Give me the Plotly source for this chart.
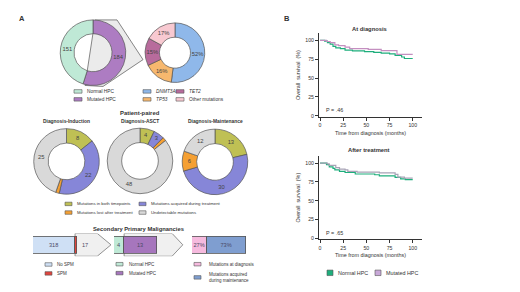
import plotly.graph_objects as go

# The page body has an 8px margin; coordinates below are screenshot pixels.
OFF = 8
W, H = 520 - OFF, 292 - OFF
FONT = "Arial, Liberation Sans, sans-serif"
TXT = "#333333"

# ---------------- data ----------------
hpc_labels = ["Mutated HPC", "Normal HPC"]
hpc_values = [184, 151]

mut_labels = ["DNMT3A", "TP53", "TET2", "Other mutations"]
mut_pct = [52, 16, 15, 17]

pair_labels = ["Mutations in both timepoints", "Mutations acquired during treatment",
               "Mutations lost after treatment", "Undetectable mutations"]
diag_induction = [8, 22, 1, 25]
diag_asct = [4, 3, 1, 48]
diag_maintenance = [13, 30, 6, 12]
pair_titles = ["Diagnosis-Induction", "Diagnosis-ASCT", "Diagnosis-Maintenance"]

spm_labels = ["No SPM", "SPM"]
spm_values = [318, 17]
spm_hpc_labels = ["Normal HPC", "Mutated HPC"]
spm_hpc_values = [4, 13]
spm_mut_labels = ["Mutations at diagnosis", "Mutations acquired<br>during maintenance"]
spm_mut_pct = [27, 73]

km_ticks = [0, 25, 50, 75, 100]
diag_normal_t = [0, 5, 8, 11, 14, 17, 22, 27, 35, 48, 58, 66, 75, 81, 88, 91, 100]
diag_normal_s = [100, 99, 97, 95, 92, 90, 89, 87, 86, 85, 84, 83, 82, 80, 78, 76, 76]
diag_mut_t = [0, 7, 11, 16, 20, 27, 32, 52, 66, 83, 100]
diag_mut_s = [100, 98.5, 97, 94, 93, 91, 89, 88, 86.5, 81.5, 81.5]
treat_normal_t = [0, 7, 10, 14, 16, 21, 27, 38, 59, 64, 81, 87, 92, 100]
treat_normal_s = [100, 98, 95, 93, 91, 89, 87.5, 85.5, 84.5, 83, 81, 79, 78, 78]
treat_mut_t = [0, 8, 10, 17, 21, 27, 30, 40, 64, 81, 84, 91, 100]
treat_mut_s = [100, 99, 97, 94, 92, 91, 89, 88, 87, 85, 81.5, 80, 80]

# ---------------- styles ----------------
C_NORMAL = "#bfe9d6"
C_MUT = "#ad7cc2"
C_MUTCOLS = ["#8fb8ea", "#f7b86e", "#b86b9c", "#f8c9d1"]
C_PAIR = ["#bfc054", "#8686d8", "#f5a033", "#d9d9d9"]
C_SPM = ["#cfe0f5", "#e0453e"]
C_SPM_HPC = [C_NORMAL, "#a676bd"]
C_SPM_MUT = ["#f6bade", "#7f9ed0"]
C_KM_N = "#1eae7c"
C_KM_M1 = "#c48fc0"
C_KM_M2 = "#a8a3b6"
EDGE = "#555555"


def fx(p):
    return (p - OFF) / W


def fy(p):
    return 1 - (p - OFF) / H


def dom(cx, cy, r):
    return dict(x=[fx(cx - r), fx(cx + r)], y=[fy(cy + r), fy(cy - r)])


fig = go.Figure()


def donut(values, labels, colors, cx, cy, r, hole, text):
    fig.add_trace(go.Pie(
        values=values, labels=labels, domain=dom(cx, cy, r), hole=hole,
        sort=False, direction="clockwise", rotation=0,
        marker=dict(colors=colors, line=dict(color=EDGE, width=0.7)),
        text=text, textinfo="text", textposition="inside",
        insidetextorientation="horizontal",
        textfont=dict(size=5.8, color="#444444", family=FONT),
        showlegend=False, hoverinfo="label+value"))


donut(hpc_values, hpc_labels, [C_MUT, C_NORMAL], 93, 53, 33, 0.58,
      [str(v) for v in hpc_values])
donut(mut_pct, mut_labels, C_MUTCOLS, 175, 53, 30, 0.52,
      [f"{v}%" for v in mut_pct])
pair_centers = [(66.5, 162.5), (140, 162), (215, 163)]
for vals, (cx, cy) in zip([diag_induction, diag_asct, diag_maintenance], pair_centers):
    donut(vals, pair_labels, C_PAIR, cx, cy, 33, 0.56,
          [str(v) if v > 2 else "" for v in vals])

# ---------------- Kaplan-Meier ----------------
for t, s, c, xa, ya, nm in [
        (diag_normal_t, diag_normal_s, C_KM_N, "x", "y", "Normal HPC"),
        (diag_mut_t, diag_mut_s, C_KM_M1, "x", "y", "Mutated HPC"),
        (treat_normal_t, treat_normal_s, C_KM_N, "x2", "y2", "Normal HPC"),
        (treat_mut_t, treat_mut_s, C_KM_M2, "x2", "y2", "Mutated HPC")]:
    fig.add_trace(go.Scatter(x=t, y=s, mode="lines", line_shape="hv",
                             line=dict(color=c, width=1.2), xaxis=xa, yaxis=ya,
                             name=nm, showlegend=False))


# ---------------- SPM bars ----------------
def hbars(values, labels, colors, xa, ya, texts):
    for v, lab, c, t in zip(values, labels, colors, texts):
        fig.add_trace(go.Bar(x=[v], y=[0], orientation="h", xaxis=xa, yaxis=ya,
                             name=lab, width=0.74,
                             marker=dict(color=c, line=dict(color=EDGE, width=0.8)),
                             text=[t], textposition="inside", insidetextanchor="middle",
                             textangle=0,
                             textfont=dict(size=5.6, color="#4a4a66", family=FONT),
                             constraintext="none", showlegend=False))


hbars(spm_values, spm_labels, C_SPM, "x3", "y3", [str(spm_values[0]), ""])
hbars(spm_hpc_values, spm_hpc_labels, C_SPM_HPC, "x4", "y4", [str(v) for v in spm_hpc_values])
hbars(spm_mut_pct, spm_mut_labels, C_SPM_MUT, "x5", "y5", [f"{v}%" for v in spm_mut_pct])

shapes = []
annotations = []

# arrows behind bars (computed from the data totals)
tot1 = sum(spm_values)
a1_start, a1_sh, a1_tip = spm_values[0], tot1 * 1.45, tot1 * 1.76
tot2 = sum(spm_hpc_values)
a2_start, a2_sh, a2_tip = spm_hpc_values[0], tot2 * 1.35, tot2 * 1.6
for xr, yr, s, sh, tip in [("x3", "y3", a1_start, a1_sh, a1_tip), ("x4", "y4", a2_start, a2_sh, a2_tip)]:
    shapes.append(dict(type="path", xref=xr, yref=yr, layer="below",
                       path=f"M {s},-0.5 L {sh},-0.5 L {tip},0 L {sh},0.5 L {s},0.5 Z",
                       fillcolor="#f0f0f0", line=dict(color="#777777", width=0.8)))
annotations.append(dict(x=tot1, y=0, xref="x3", yref="y3", text=str(spm_values[1]),
                        showarrow=False, xanchor="left", xshift=3,
                        font=dict(size=5.6, color="#4a4a66", family=FONT)))

# explosion wedge from donut 1 to donut 2
shapes.append(dict(type="path", xref="paper", yref="paper", layer="below",
                   path=(f"M {fx(95)},{fy(20)} L {fx(117)},{fy(20)} L {fx(143)},{fy(60)} "
                         f"L {fx(103)},{fy(87)} L {fx(85)},{fy(86)} Z"),
                   fillcolor="#ebebeb", line=dict(color=EDGE, width=0.7)))


def ann(x, y, text, size=5, bold=False, anchor="center", color=TXT):
    annotations.append(dict(x=fx(x), y=fy(y), xref="paper", yref="paper",
                            text=f"<b>{text}</b>" if bold else text, showarrow=False,
                            xanchor=anchor, yanchor="middle", align="left",
                            font=dict(size=size, color=color, family=FONT)))


def leg(x, y, color, text, w=7, h=3.5, size=4.6, gap=3):
    shapes.append(dict(type="rect", xref="paper", yref="paper",
                       x0=fx(x), x1=fx(x + w), y0=fy(y + h / 2), y1=fy(y - h / 2),
                       fillcolor=color, line=dict(color=EDGE, width=0.6)))
    ann(x + w + gap, y, text, size=size, anchor="left")


# panel labels
ann(22, 19, "A", size=7.5, bold=True)
ann(287, 19, "B", size=7.5, bold=True)

# legends top
leg(74, 92, C_NORMAL, hpc_labels[1], w=8, size=4.8)
leg(74, 100, C_MUT, hpc_labels[0], w=8, size=4.8)
leg(143, 92, C_MUTCOLS[0], f"<i>{mut_labels[0]}</i>", w=8, size=4.8)
leg(176, 92, C_MUTCOLS[2], f"<i>{mut_labels[2]}</i>", w=8, size=4.8)
leg(143, 100, C_MUTCOLS[1], f"<i>{mut_labels[1]}</i>", w=8, size=4.8)
leg(176, 100, C_MUTCOLS[3], mut_labels[3], w=8, size=4.8)

# patient-paired titles
ann(139.5, 114, "Patient-paired", size=5.9, bold=True)
for t, (cx, cy) in zip(pair_titles, pair_centers):
    ann(cx, 122.8, t, size=4.9, bold=True)
leg(65, 205.3, C_PAIR[0], pair_labels[0], size=4.3)
leg(139, 205.3, C_PAIR[1], pair_labels[1], size=4.3)
leg(65, 214, C_PAIR[2], pair_labels[2], size=4.3)
leg(139, 214, C_PAIR[3], pair_labels[3], size=4.3)

# SPM
ann(138, 231, "Secondary Primary Malignancies", size=5.8, bold=True)
leg(45, 266.3, C_SPM[0], spm_labels[0], size=4.5)
leg(45, 275.3, C_SPM[1], spm_labels[1], size=4.5)
leg(116, 266, C_SPM_HPC[0], spm_hpc_labels[0], size=4.5, gap=4)
leg(116, 275, C_SPM_HPC[1], spm_hpc_labels[1], size=4.5, gap=4)
leg(194, 266, C_SPM_MUT[0], spm_mut_labels[0], size=4.5, gap=6)
leg(194, 279.3, C_SPM_MUT[1], spm_mut_labels[1], size=4.5, gap=6)

# KM titles, p-values and legend
ann(369, 29, "At diagnosis", size=5.8, bold=True)
ann(369, 151, "After treatment", size=5.8, bold=True)
for xr, yr, p in [("x", "y", "P = .46"), ("x2", "y2", "P = .65")]:
    annotations.append(dict(x=4, y=7.5, xref=xr, yref=yr, text=p, showarrow=False,
                            xanchor="left", font=dict(size=5.4, color=TXT, family=FONT)))
leg(327, 274.7, C_KM_N, "Normal HPC", w=6, h=5.5, size=5.4)
leg(375, 274.7, "#c8a8d8", "Mutated HPC", w=6, h=5.5, size=5.4)


# ---------------- axes ----------------
def km_axes(ytop, ybot, yrange):
    common = dict(ticks="outside", ticklen=3, tickwidth=0.8, tickcolor="#333",
                  showline=True, linecolor="#333", linewidth=0.9, showgrid=False,
                  zeroline=False, tickvals=km_ticks,
                  tickfont=dict(size=5.2, color=TXT, family=FONT))
    xa = dict(common, domain=[fx(319), fx(422)], range=[-1.1, 110],
              title=dict(text="Time from diagnosis (months)", standoff=3,
                         font=dict(size=5.4, color=TXT, family=FONT)))
    ya = dict(common, domain=[fy(ybot), fy(ytop)], range=yrange,
              title=dict(text="Overall  survival  (%)", standoff=4,
                         font=dict(size=5.4, color=TXT, family=FONT)))
    return xa, ya


xa1, ya1 = km_axes(33, 118, [-1.8, 110])
xa2, ya2 = km_axes(157, 241, [-1.3, 109.5])
xa1["anchor"], ya1["anchor"] = "y", "x"
xa2["anchor"], ya2["anchor"] = "y2", "x2"

hidden = dict(visible=False, showgrid=False, zeroline=False, fixedrange=True)
bar_y = dict(hidden, domain=[fy(258), fy(235)], range=[-0.5, 0.5])

fig.update_layout(
    width=W, height=H, margin=dict(l=0, r=0, t=0, b=0),
    paper_bgcolor="white", plot_bgcolor="rgba(0,0,0,0)",
    font=dict(family=FONT, color=TXT),
    showlegend=False, barmode="stack", bargap=0,
    uniformtext=dict(minsize=5.5, mode="show"),
    xaxis=xa1, yaxis=ya1, xaxis2=xa2, yaxis2=ya2,
    xaxis3=dict(hidden, domain=[fx(33), fx(113)], range=[0, tot1 * 80 / 44.3], anchor="y3"),
    yaxis3=dict(bar_y, anchor="x3"),
    xaxis4=dict(hidden, domain=[fx(114), fx(184)], range=[0, tot2 * 70 / 43], anchor="y4"),
    yaxis4=dict(bar_y, anchor="x4"),
    xaxis5=dict(hidden, domain=[fx(192), fx(246)], range=[0, sum(spm_mut_pct)], anchor="y5"),
    yaxis5=dict(bar_y, anchor="x5"),
    shapes=shapes, annotations=annotations,
)

fig.write_html("out.html")
